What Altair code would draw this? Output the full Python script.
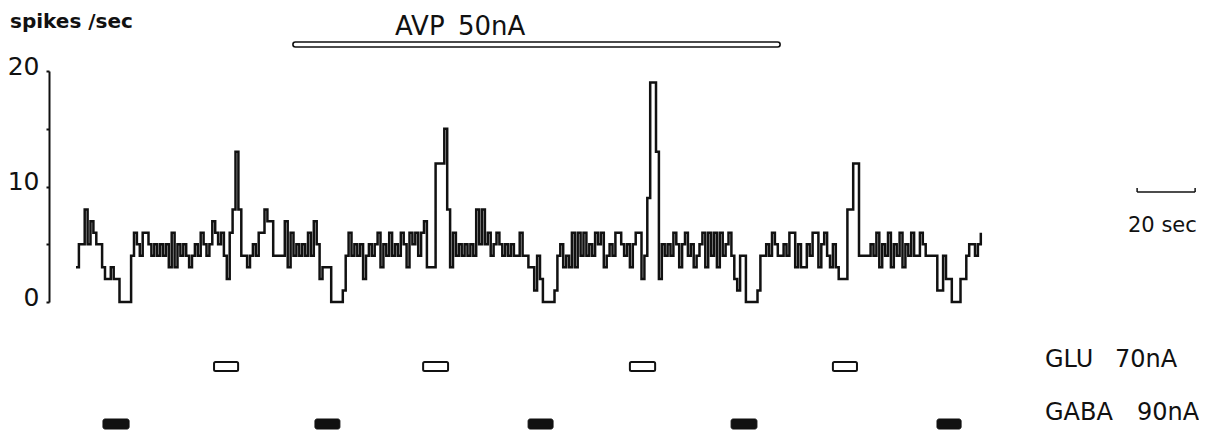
import altair as alt
import pandas as pd

# firing rate, spikes/sec, one value per 1-s bin
rate = (
    [3, 5, 5, 8, 5, 7, 6, 5, 5, 3, 2, 2, 3, 2, 2, 0, 0, 0, 0]
    + [4, 6, 5, 4, 6, 6, 5, 4, 5, 4, 5, 4, 5, 3, 6, 3, 5, 4, 5, 4, 3, 4, 5, 4, 6, 5, 4, 5, 7, 6, 5, 6, 4, 2, 6]
    + [8, 13, 8, 4, 4, 3, 4, 5, 4, 6, 6, 8, 7, 7, 4, 4, 4, 4, 7, 3, 6, 4, 5, 4, 5, 4, 6, 4, 7, 5, 2, 3, 3, 3]
    + [0, 0, 0, 0, 1, 4, 6, 4, 5, 4, 5, 2, 4, 5, 4, 5, 6, 3, 5, 4, 6, 4, 5, 4, 6, 5, 3, 6, 5, 6, 4, 6, 7, 3, 3, 3]
    + [12, 12, 12, 15, 8, 3, 6, 4, 5, 4, 5, 4, 5, 4, 8, 5, 8, 5, 6, 4, 5, 6, 5, 4, 5, 4, 5, 4, 4, 6, 4, 4, 3, 3, 1, 4, 2, 0, 0, 0, 0, 1, 4]
    + [5, 3, 4, 3, 6, 3, 6, 4, 6, 4, 5, 4, 6, 5, 6, 3, 4, 5, 4, 6, 6, 5, 4, 5, 3, 5, 6, 6, 2, 4]
    + [9, 19, 19, 13, 2, 5, 4, 5, 4, 6, 5, 3, 5, 6, 4, 5, 3, 4, 5, 6, 3, 6, 4, 6, 3, 6, 4, 5, 6, 4, 2, 1, 4, 4, 0, 0, 0, 0, 1]
    + [4, 4, 5, 4, 6, 5, 4, 4, 5, 4, 6, 6, 3, 5, 3, 3, 5, 4, 6, 6, 3, 5, 6, 4, 3, 5, 3, 2, 2, 2, 8, 8, 12, 12, 4,
       4, 4, 4, 5, 4, 6, 3, 5, 4, 6, 3, 5, 4, 6, 3, 5, 4, 6, 4, 4, 6, 5, 4, 4, 4, 4, 1, 1, 4, 2, 2, 0, 0, 0, 2, 2,
       4, 5, 5, 4, 5, 6]
)
time_s = list(range(len(rate)))

# drug application periods (seconds)
glu_start = [47.6, 119.7, 191.0, 261.0]
glu_end = [55.9, 128.3, 199.7, 269.3]
gaba_start = [9.3, 82.4, 155.9, 225.9, 296.9]
gaba_end = [18.3, 91.0, 164.5, 234.8, 305.2]
avp_start = [74.8]
avp_end = [242.8]
scale_bar = [365.9, 385.9]  # 20 sec

y_ticks = [0, 5, 10, 15, 20]

FONT = "DejaVu Sans"
INK = "#111111"

trace_df = pd.DataFrame({"t": time_s, "rate": rate})
glu_df = pd.DataFrame({"s": glu_start, "e": glu_end})
gaba_df = pd.DataFrame({"s": gaba_start, "e": gaba_end})
avp_df = pd.DataFrame({"s": avp_start, "e": avp_end})
sb_df = pd.DataFrame({"s": [scale_bar[0]], "e": [scale_bar[1]]})
sb_ends = pd.DataFrame({"t": scale_bar})

xscale = alt.Scale(domain=[-9.31, 387.24], nice=False, zero=False)

trace = alt.Chart(trace_df).mark_line(
    interpolate="step-after", color=INK, strokeWidth=2.5
).encode(
    x=alt.X("t:Q", scale=xscale, axis=None),
    y=alt.Y(
        "rate:Q",
        scale=alt.Scale(domain=[0, 20], nice=False, zero=False),
        axis=alt.Axis(
            values=y_ticks,
            labelExpr="datum.value % 10 == 0 ? datum.label : ''",
            title=None,
            grid=False,
            domainColor=INK,
            domainWidth=2,
            tickColor=INK,
            tickWidth=2,
            tickSize=3,
            labelFont=FONT,
            labelFontSize=25,
            labelColor=INK,
            labelPadding=7,
            labelBaseline="middle",
            labelOffset=-5,
        ),
    ),
)

glu = alt.Chart(glu_df).mark_rect(
    fill="white", stroke=INK, strokeWidth=2, cornerRadius=1.5
).encode(
    x=alt.X("s:Q", scale=xscale, axis=None), x2="e:Q",
    y=alt.value(291), y2=alt.value(300),
)

gaba = alt.Chart(gaba_df).mark_rect(
    fill=INK, stroke=INK, strokeWidth=1, cornerRadius=2
).encode(
    x=alt.X("s:Q", scale=xscale, axis=None), x2="e:Q",
    y=alt.value(348), y2=alt.value(358),
)

avp = alt.Chart(avp_df).mark_rect(
    fill="white", stroke=INK, strokeWidth=1.6, cornerRadius=2.5
).encode(
    x=alt.X("s:Q", scale=xscale, axis=None), x2="e:Q",
    y=alt.value(-29), y2=alt.value(-24),
)

sb_line = alt.Chart(sb_df).mark_rule(color=INK, strokeWidth=1.5).encode(
    x=alt.X("s:Q", scale=xscale, axis=None), x2="e:Q", y=alt.value(121)
)
sb_tick = alt.Chart(sb_ends).mark_rule(color=INK, strokeWidth=1.5).encode(
    x=alt.X("t:Q", scale=xscale, axis=None), y=alt.value(117), y2=alt.value(121)
)


def label(txt, px, py, size, weight="normal"):
    return alt.Chart(alt.Data(values=[{"label": txt}])).mark_text(
        align="left", baseline="alphabetic", font=FONT, fontSize=size,
        fontWeight=weight, color=INK,
    ).encode(text="label:N", x=alt.value(px), y=alt.value(py))


texts = [
    label("spikes /sec", -39, -43, 20, "bold"),
    label("AVP", 346, -36, 26),
    label("50nA", 409, -36, 26),
    label("20 sec", 1079, 161, 21),
    label("GLU", 996, 296, 24),
    label("70nA", 1066, 296, 24),
    label("GABA", 996, 349, 24),
    label("90nA", 1088, 349, 24),
]

chart = alt.layer(trace, glu, gaba, avp, sb_line, sb_tick, *texts).properties(
    width=1150,
    height=231,
    autosize=alt.AutoSizeParams(type="none"),
    padding={"left": 41, "top": 63, "right": 0, "bottom": 128},
    background="white",
).configure_view(stroke=None)

chart.save("out.html", embed_options={"renderer": "svg", "actions": False})
